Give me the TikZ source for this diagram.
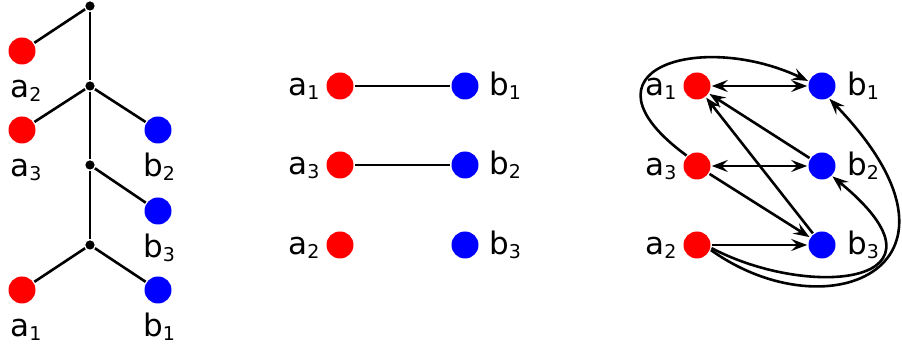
\documentclass[tikz,border=0pt]{standalone}
\usepackage{fontspec}
\setmainfont{DejaVu Sans}
\usetikzlibrary{arrows.meta}
\newcommand\lbl[2]{#1\raisebox{-2pt}{\fontsize{9.5}{10}\selectfont #2}}
\begin{document}
\begin{tikzpicture}[x=0.5pt,y=-0.5pt,line width=1.3pt,
  rdot/.style={circle,fill=red,minimum size=13.5pt,inner sep=0pt},
  bdot/.style={circle,fill=blue,minimum size=13.5pt,inner sep=0pt},
  jdot/.style={circle,fill=black,minimum size=4.6pt,inner sep=0pt},
  txt/.style={anchor=base west,inner sep=0pt,font=\fontsize{15.5}{18}\selectfont},
  arr/.style={-{Stealth[length=8pt,width=6pt,inset=3pt]}},
  barr/.style={{Stealth[length=8pt,width=6pt,inset=3pt]}-{Stealth[length=8pt,width=6pt,inset=3pt]}}]
\useasboundingbox (0,0) rectangle (902,356);
% ---------- left tree ----------
\node[jdot] (j1) at (90,6) {};
\node[jdot] (j2) at (90,86) {};
\node[jdot] (j3) at (90,165) {};
\node[jdot] (j4) at (90,245) {};
\node[rdot] (La2) at (22,51) {};
\node[rdot] (La3) at (22,130) {};
\node[bdot] (Lb2) at (158,130) {};
\node[bdot] (Lb3) at (158,211) {};
\node[rdot] (La1) at (22,290) {};
\node[bdot] (Lb1) at (158,290) {};
\draw (j1) -- (j2) -- (j3) -- (j4);
\draw (j1) -- (La2);
\draw (j2) -- (La3);
\draw (j2) -- (Lb2);
\draw (j3) -- (Lb3);
\draw (j4) -- (La1);
\draw (j4) -- (Lb1);
\node[txt] (tLa2) at (9,98) {\lbl{a}{2}};
\node[txt] (tLa3) at (9,177) {\lbl{a}{3}};
\node[txt] (tLb2) at (142,177) {\lbl{b}{2}};
\node[txt] (tLb3) at (142,258) {\lbl{b}{3}};
\node[txt] (tLa1) at (9,337) {\lbl{a}{1}};
\node[txt] (tLb1) at (142,337) {\lbl{b}{1}};
% ---------- middle ----------
\node[rdot] (Ma1) at (340,86) {};
\node[bdot] (Mb1) at (465,86) {};
\node[rdot] (Ma3) at (340,165) {};
\node[bdot] (Mb2) at (465,165) {};
\node[rdot] (Ma2) at (340,245) {};
\node[bdot] (Mb3) at (465,245) {};
\draw (Ma1) -- (Mb1);
\draw (Ma3) -- (Mb2);
\node[txt] (tMa1) at (287,96) {\lbl{a}{1}};
\node[txt] (tMa3) at (287,175) {\lbl{a}{3}};
\node[txt] (tMa2) at (287,255) {\lbl{a}{2}};
\node[txt] (tMb1) at (488,96) {\lbl{b}{1}};
\node[txt] (tMb2) at (488,175) {\lbl{b}{2}};
\node[txt] (tMb3) at (488,255) {\lbl{b}{3}};
% ---------- right ----------
\node[rdot] (Ra1) at (697,86) {};
\node[bdot] (Rb1) at (822,86) {};
\node[rdot] (Ra3) at (697,166) {};
\node[bdot] (Rb2) at (822,166) {};
\node[rdot] (Ra2) at (697,245) {};
\node[bdot] (Rb3) at (822,245) {};
\node[txt] (tRa1) at (644,96) {\lbl{a}{1}};
\node[txt] (tRa3) at (644,176) {\lbl{a}{3}};
\node[txt] (tRa2) at (644,255) {\lbl{a}{2}};
\node[txt] (tRb1) at (846,96) {\lbl{b}{1}};
\node[txt] (tRb2) at (846,176) {\lbl{b}{2}};
\node[txt] (tRb3) at (846,255) {\lbl{b}{3}};
\draw[barr] (Ra1) -- (Rb1);
\draw[barr] (Ra3) -- (Rb2);
\draw[arr] (Ra2) -- (Rb3);
\draw[arr] (Ra3) -- (Rb3);
\draw[arr] (Rb3) -- (Ra1);
\draw[arr] (Rb2) -- (Ra1);
\draw[arr] (Ra3.135) .. controls (570,70) and (700,30) .. (Rb1.160);
\draw[arr] (Ra2.-12) .. controls (810,300) and (965,285) .. (Rb2.-45);
\draw[arr] (Ra2.-20) .. controls (830,335) and (990,265) .. (Rb1.-60);
\end{tikzpicture}
\end{document}
